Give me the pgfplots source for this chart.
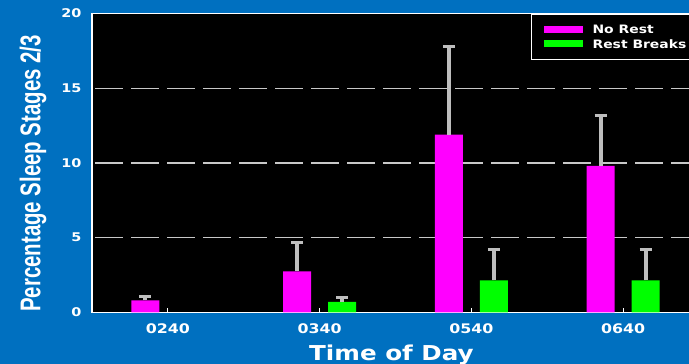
\documentclass[border=0pt]{standalone}
\usepackage{pgfplots}
\pgfplotsset{compat=1.18}
\usepackage{pgfplotstable}
\usepackage{graphicx}
\usepackage{fontspec}
\setmainfont{Liberation Sans}
\newfontfamily\labelfont{DejaVu Sans}

\definecolor{slideblue}{HTML}{0070C0}
\definecolor{barmagenta}{HTML}{FF00FF}
\definecolor{bargreen}{HTML}{00FF00}
\definecolor{errgray}{HTML}{BEBEBE}
\definecolor{gridgray}{HTML}{C8C8C8}

% slide text is set wide and bold
\newcommand{\wide}[1]{\scalebox{1.2}[1]{\labelfont\bfseries #1}}

% x = session, y = mean percentage, err = upper error
\pgfplotstableread{
x y err
1 0.80 0.25
2 2.75 1.95
3 11.90 5.90
4 9.80 3.35
}\norest
\pgfplotstableread{
x y err
2 0.70 0.30
3 2.15 2.05
4 2.15 2.05
}\restbreaks

\begin{document}
\begin{tikzpicture}
\fill[slideblue] (0bp,0bp) rectangle (689bp,364bp);
\begin{scope}
\clip (0bp,0bp) rectangle (689bp,364bp);
\begin{axis}[
  at={(92bp,51.6bp)}, anchor=south west,
  scale only axis, width=607bp, height=298.8bp,
  xmin=0.5, xmax=4.5, ymin=0, ymax=20,
  ybar=17bp, bar width=28bp,
  axis background/.style={fill=black},
  axis line style={white, line width=1.6bp},
  xtick={1,2,3,4},
  xticklabels={\wide{0240},\wide{0340},\wide{0540},\wide{0640}},
  ytick={0,5,10,15,20},
  yticklabels={\wide{0},\wide{5},\wide{10},\wide{15},\wide{20}},
  extra y ticks={5,10,15},
  extra y tick labels={},
  extra y tick style={grid=major},
  major grid style={gridgray, line width=1.4bp, dash pattern=on 28bp off 8bp, dash phase=33bp},
  tick align=inside,
  major tick length=4.5bp,
  xtick pos=bottom,
  xtick style={white, line width=1bp},
  ytick style={draw=none},
  xticklabel style={anchor=base, yshift=-20.6bp, inner sep=0pt,
    font=\fontsize{13.2bp}{13.2bp}\selectfont, text=white},
  yticklabel style={anchor=east, xshift=-10.3bp, inner sep=0pt,
    font=\fontsize{12bp}{12bp}\selectfont, text=white},
  xlabel={\wide{Time of Day}},
  xlabel style={at={(axis description cs:0.4934,0)}, anchor=base, yshift=-47.6bp,
    inner sep=0pt, font=\fontsize{20.5bp}{20.5bp}\selectfont, text=white},
  ylabel={\scalebox{1}[1.4]{Percentage Sleep Stages 2/3}},
  ylabel style={at={(axis description cs:-0.0972,0.4649)}, anchor=center,
    inner sep=0pt, font=\bfseries\fontsize{20.4bp}{20.4bp}\selectfont, text=white},
  legend style={
    at={(axis description cs:0.7232,1)}, anchor=north west,
    draw=white, line width=1.2bp, fill=black, text=white,
    font=\fontsize{11.6bp}{11.6bp}\selectfont,
    inner xsep=12bp, inner ysep=11bp,
    column sep=10bp, row sep=6bp,
    nodes={inner sep=0pt, text height=8.5bp, text depth=0pt},
  },
  legend cell align=left,
  error bars/error bar style={line width=4bp, errgray},
  error bars/error mark options={errgray, line width=3bp, mark size=6bp, rotate=90},
]
\addplot[fill=barmagenta, draw=none,
  legend image code/.code={\fill[barmagenta] (0bp,-3.5bp) rectangle (39bp,3.5bp);},
  error bars/.cd, y dir=plus, y explicit]
  table[x=x, y=y, y error=err] {\norest};
\addlegendentry{\wide{No Rest}}
\addplot[fill=bargreen, draw=none,
  legend image code/.code={\fill[bargreen] (0bp,-3.5bp) rectangle (39bp,3.5bp);},
  error bars/.cd, y dir=plus, y explicit]
  table[x=x, y=y, y error=err] {\restbreaks};
\addlegendentry{\wide{Rest Breaks}}
\end{axis}
\end{scope}
\pgfresetboundingbox
\useasboundingbox (0bp,0bp) rectangle (689bp,364bp);
\end{tikzpicture}
\end{document}
